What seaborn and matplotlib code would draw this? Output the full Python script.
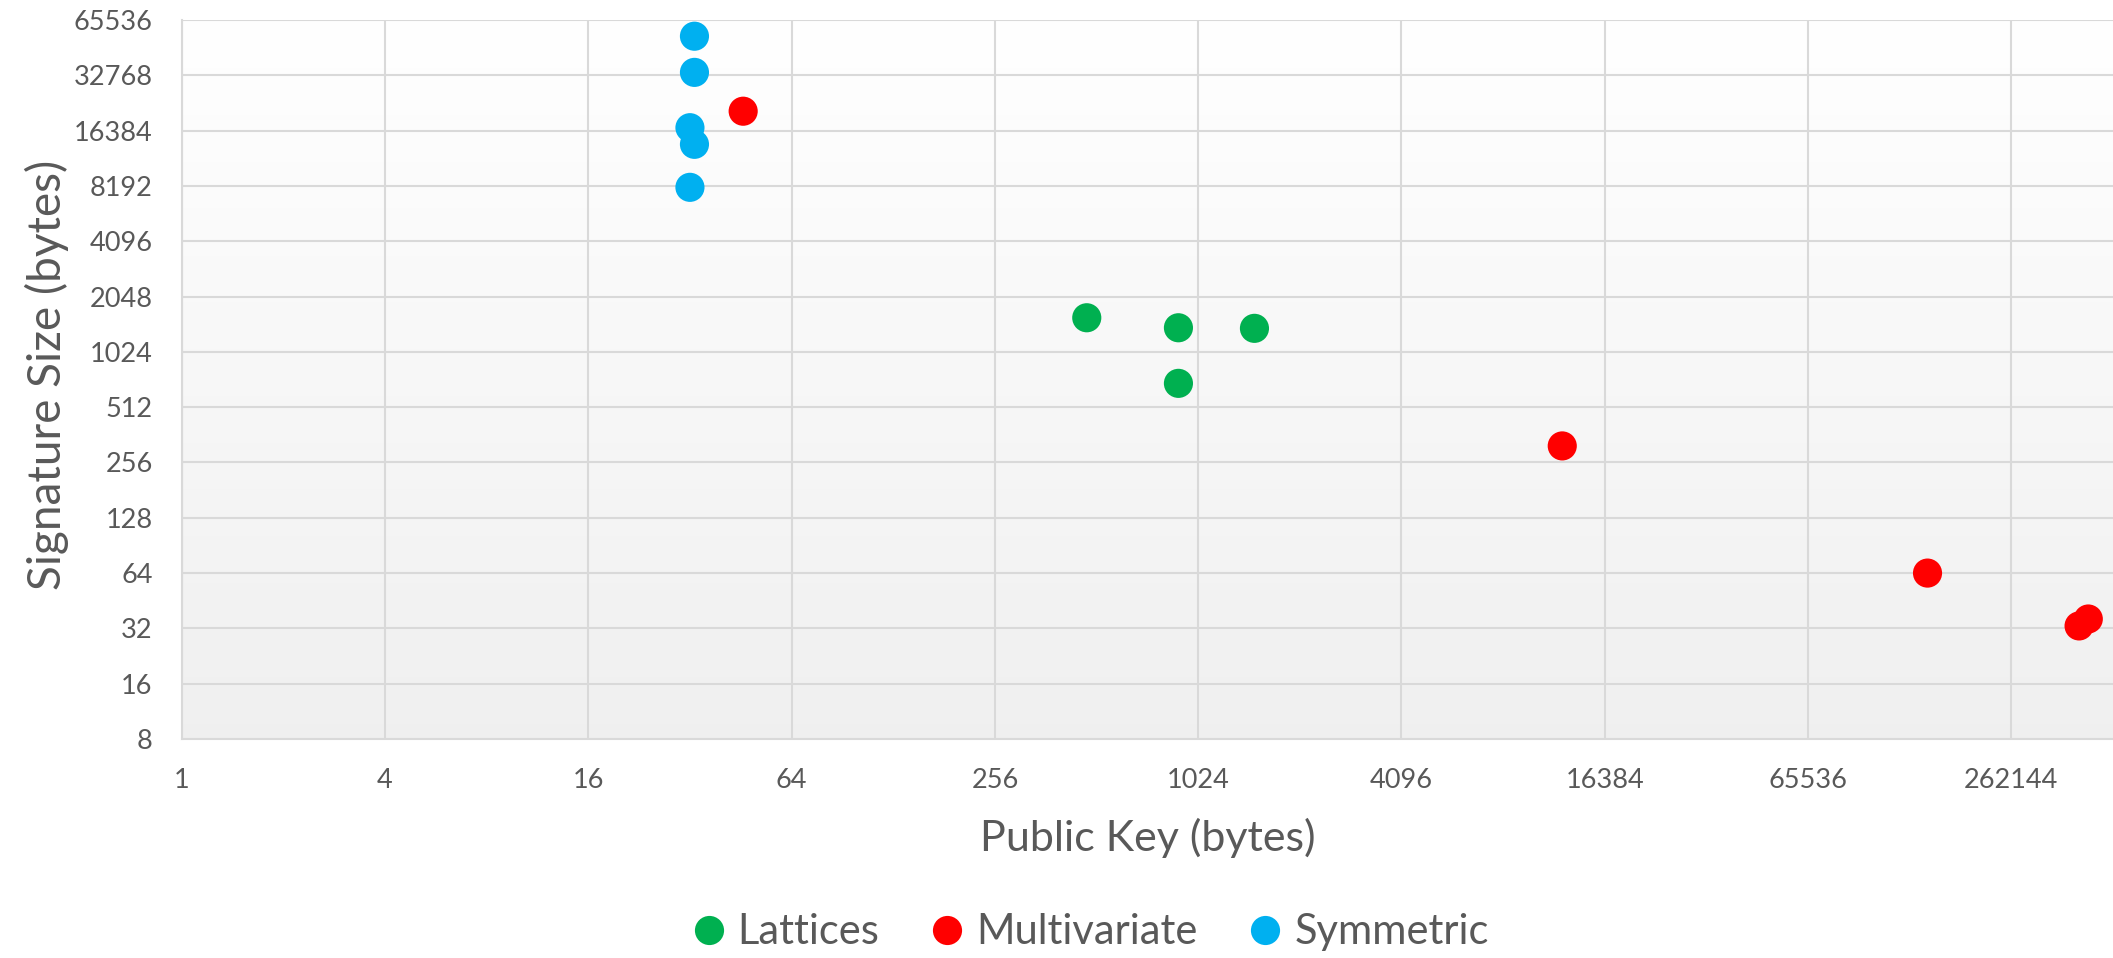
import numpy as np
import pandas as pd
import matplotlib
matplotlib.use("Agg")
import matplotlib.pyplot as plt
import seaborn as sns

# ---- data (bytes) ----
lattice_pk = [479, 895, 1503, 895]
lattice_sig = [1570, 1385, 1375, 690]
multi_pk = [46, 12260, 148000, 416000, 443000]
multi_sig = [20900, 315, 64, 33, 36]
sym_pk = [33, 33, 32, 33, 32]
sym_sig = [53500, 34000, 17000, 13800, 8050]

families = ["Lattices", "Multivariate", "Symmetric"]
colors = {"Lattices": "#00B050", "Multivariate": "#FF0000", "Symmetric": "#00B0F0"}

x_ticks = [1, 4, 16, 64, 256, 1024, 4096, 16384, 65536, 262144]
y_ticks = [8, 16, 32, 64, 128, 256, 512, 1024, 2048, 4096, 8192, 16384, 32768, 65536]

df = pd.DataFrame({
    "pk": lattice_pk + multi_pk + sym_pk,
    "sig": lattice_sig + multi_sig + sym_sig,
    "family": ["Lattices"] * len(lattice_pk) + ["Multivariate"] * len(multi_pk) + ["Symmetric"] * len(sym_pk),
})

sns.set_theme(style="white")
plt.rcParams["font.family"] = ["Lato", "DejaVu Sans"]
text_color = "#595959"
grid_color = "#D9D9D9"

fig = plt.figure(figsize=(21.13, 9.58), dpi=100)
ax = fig.add_axes([0.086, 0.2286, 0.914, 0.7505])

# gradient background
grad = np.linspace(1.0, 0.0, 256).reshape(-1, 1)
top = np.array([1.0, 1.0, 1.0])
bot = np.array([0.94, 0.94, 0.94])
img = top[None, None, :] * grad[:, :, None] + bot[None, None, :] * (1 - grad[:, :, None])
ax.imshow(img, extent=[0, 1, 0, 1], transform=ax.transAxes, aspect="auto", zorder=0)

sns.scatterplot(data=df, x="pk", y="sig", hue="family", hue_order=families,
                palette=colors, s=440, edgecolor="none", ax=ax, zorder=3, legend=False)

ax.set_xscale("log", base=2)
ax.set_yscale("log", base=2)
ax.set_xlim(1, 2 ** 19)
ax.set_ylim(8, 65536)
ax.set_xticks(x_ticks)
ax.set_xticklabels([str(v) for v in x_ticks])
ax.set_yticks(y_ticks)
ax.set_yticklabels([str(v) for v in y_ticks])
ax.minorticks_off()
ax.tick_params(axis="both", length=0, labelsize=19.5, labelcolor=text_color)
ax.tick_params(axis="x", pad=21)
ax.tick_params(axis="y", pad=21)

ax.grid(True, color=grid_color, linewidth=1.5, zorder=1)
ax.set_axisbelow(True)
for side in ["top", "right"]:
    ax.spines[side].set_visible(False)
for side in ["left", "bottom"]:
    ax.spines[side].set_color(grid_color)
    ax.spines[side].set_linewidth(1.5)

ax.set_xlabel("Public Key (bytes)", fontsize=31, color=text_color, va="center")
ax.set_ylabel("Signature Size (bytes)", fontsize=33, color=text_color, va="center")
ax.xaxis.set_label_coords(0.5, -0.1377)
ax.yaxis.set_label_coords(-0.0698, 0.506)

handles = [plt.Line2D([], [], marker="o", linestyle="", markersize=21,
                      markerfacecolor=colors[f], markeredgecolor="none") for f in families]
fig.legend(handles, families, loc="center", bbox_to_anchor=(0.515, 0.027), ncol=3,
           frameon=False, fontsize=30, labelcolor=text_color, handlelength=1.0,
           handletextpad=0.2, columnspacing=1.12)

fig.savefig("out.png", dpi=100)
